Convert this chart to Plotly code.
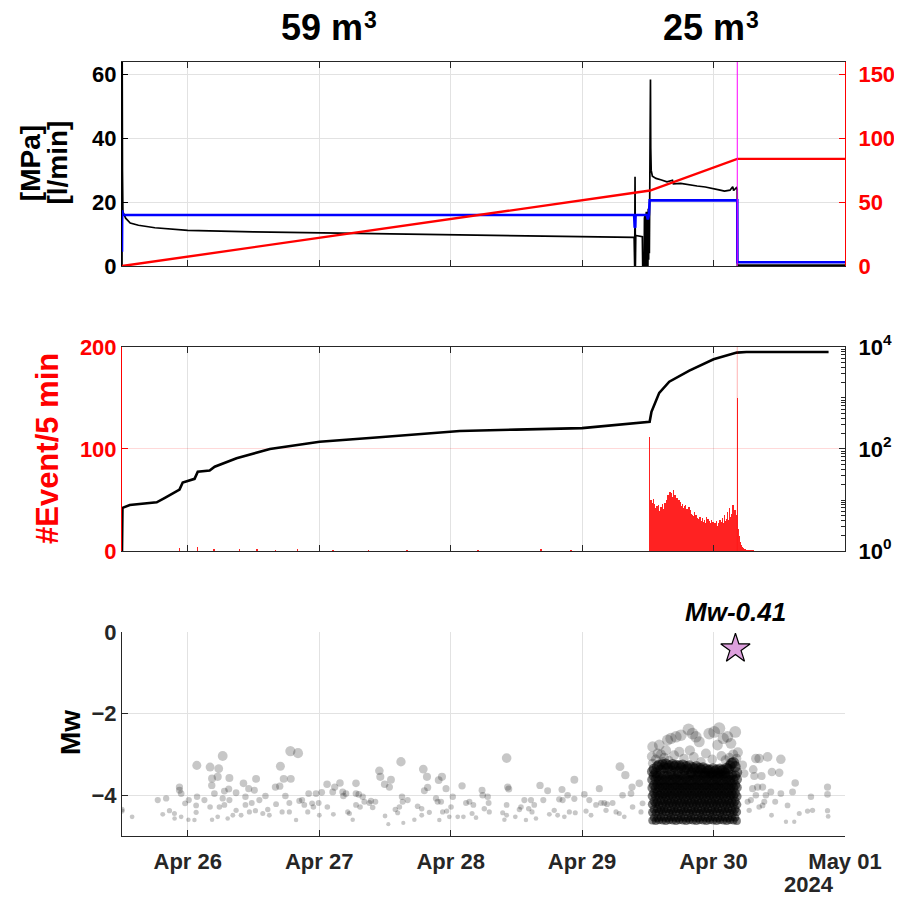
import numpy as np
import pandas as pd
import plotly.graph_objects as go

# ---------------- axis / tick data ----------------
x_range = ["2024-04-25 12:00", "2024-05-01 00:00"]
day_ticks = ["2024-04-26", "2024-04-27", "2024-04-28", "2024-04-29", "2024-04-30", "2024-05-01"]
day_labels = ["Apr 26", "Apr 27", "Apr 28", "Apr 29", "Apr 30", "May 01"]
title_values = ["59 m", "25 m"]      # volumes injected in each stage, unit m^3
title_centers = [0.2877, 0.816]

# ---------------- top panel: pressure, flow, volume ----------------
pressure_time = ["2024-04-25 12:00", "2024-04-25 12:02", "2024-04-25 12:05", "2024-04-25 12:10", "2024-04-25 12:40",
                 "2024-04-25 13:30", "2024-04-25 15:00", "2024-04-25 18:00", "2024-04-26 00:00", "2024-04-26 12:00",
                 "2024-04-27 00:00", "2024-04-27 12:00", "2024-04-28 00:00", "2024-04-28 12:00", "2024-04-29 00:00",
                 "2024-04-29 09:30", "2024-04-29 09:36", "2024-04-29 09:40", "2024-04-29 09:44", "2024-04-29 09:48",
                 "2024-04-29 11:00", "2024-04-29 11:04", "2024-04-29 11:20", "2024-04-29 11:23", "2024-04-29 11:26",
                 "2024-04-29 11:30", "2024-04-29 11:33", "2024-04-29 11:37", "2024-04-29 11:40", "2024-04-29 11:44",
                 "2024-04-29 11:47", "2024-04-29 11:51", "2024-04-29 11:54", "2024-04-29 11:58", "2024-04-29 12:01",
                 "2024-04-29 12:05", "2024-04-29 12:09", "2024-04-29 12:13", "2024-04-29 12:17", "2024-04-29 12:22",
                 "2024-04-29 12:26", "2024-04-29 12:29", "2024-04-29 12:32", "2024-04-29 12:37", "2024-04-29 12:50",
                 "2024-04-29 13:30", "2024-04-29 14:30", "2024-04-29 15:30", "2024-04-29 16:30", "2024-04-29 16:40",
                 "2024-04-29 18:00", "2024-04-29 19:30", "2024-04-29 21:00", "2024-04-29 22:30", "2024-04-30 00:00",
                 "2024-04-30 01:00", "2024-04-30 02:00", "2024-04-30 03:00", "2024-04-30 03:30", "2024-04-30 03:40",
                 "2024-04-30 04:10", "2024-04-30 04:19", "2024-04-30 04:21", "2024-05-01 00:00"]
pressure_mpa = [0, 66, 30, 17, 15,
                13.5, 12.8, 12.0, 11.2, 10.7,
                10.4, 10.1, 9.9, 9.7, 9.4,
                9.0, 0, 28, 0, 9.6,
                9.2, 0, 0, 15, 0,
                16, 0, 15, 0, 17,
                0, 16, 0, 17, 0,
                18, 2, 17, 4, 18,
                32, 58.5, 37, 30, 28.2,
                27.5, 27.0, 26.4, 26.9, 25.8,
                25.9, 25.4, 25.1, 24.8, 24.4,
                23.9, 23.5, 23.8, 24.9, 23.7,
                24.6, 24.1, 0.3, 0.3]

flow_time = ["2024-04-25 12:00", "2024-04-25 12:02", "2024-04-25 12:10", "2024-04-29 09:30", "2024-04-29 09:36",
             "2024-04-29 09:42", "2024-04-29 09:46", "2024-04-29 11:50", "2024-04-29 12:00", "2024-04-29 12:12",
             "2024-04-29 12:20", "2024-04-30 04:20", "2024-04-30 04:21", "2024-05-01 00:00"]
flow_lpm = [4.5, 17.5, 16.0, 16.0, 12.3,
            12.0, 16.0, 16.0, 14.6, 16.0,
            20.6, 20.6, 1.2, 1.2]

volume_time = ["2024-04-25 12:00", "2024-04-29 09:10", "2024-04-29 12:25", "2024-04-30 04:20", "2024-05-01 00:00"]
volume_m3 = [0, 57.5, 59.2, 84.0, 84.0]

shut_in_time = "2024-04-30 04:20"

# ---------------- middle panel: event rate + cumulative ----------------
rate_start = "2024-04-29 12:20"
rate_counts = [112, 48, 45, 50, 42, 47, 38, 44, 51, 40, 35, 46,
               38, 30, 42, 36, 44, 28, 40, 33, 45, 37, 31, 39,
               35, 43, 29, 38, 46, 34, 41, 30, 44, 39, 47, 36,
               42, 50, 38, 45, 55, 40, 48, 52, 43, 58, 46, 51,
               57, 44, 53, 48, 60, 42, 50, 47, 55, 41, 49, 45,
               52, 39, 47, 43, 50, 38, 45, 41, 48, 36, 44, 40,
               46, 35, 42, 38, 44, 33, 40, 45, 37, 32, 41, 36,
               39, 30, 43, 34, 37, 29, 40, 33, 36, 28, 35, 31,
               34, 27, 38, 30, 33, 26, 35, 29, 32, 25, 30, 28,
               31, 24, 33, 27, 30, 22, 29, 26, 32, 23, 28, 25,
               30, 22, 27, 24, 33, 21, 28, 25, 31, 20, 26, 29,
               24, 27, 21, 30, 23, 26, 19, 28, 22, 25, 18, 27,
               23, 26, 20, 29, 22, 25, 19, 27, 21, 24, 30, 22,
               26, 20, 28, 23, 32, 21, 27, 24, 35, 22, 29, 25,
               31, 23, 27, 38, 24, 30, 26, 42, 28, 33, 25, 29,
               36, 27, 32, 45, 28, 34, 30, 40, 26, 31, 24, 35,
               150, 87, 22,
               20, 15, 12, 9, 8, 6, 5, 4, 4, 3, 3, 2, 2, 2, 1, 2, 1, 1, 1, 0,
               1, 1, 0, 1, 0, 0, 1, 0, 1, 0, 0, 1]
sparse_rate_time = ["2024-04-25 12:00", "2024-04-25 22:30", "2024-04-26 01:50", "2024-04-26 04:50",
                    "2024-04-26 09:30", "2024-04-26 12:40", "2024-04-26 16:00", "2024-04-26 20:00",
                    "2024-04-27 02:30", "2024-04-27 09:00", "2024-04-27 16:00", "2024-04-28 05:00",
                    "2024-04-28 16:30", "2024-04-28 22:00"]
sparse_rate_counts = [7, 3, 4, 2, 2, 2, 1, 2, 1, 1, 1, 1, 2, 1]

cum_time = ["2024-04-25 12:00", "2024-04-25 12:05", "2024-04-25 13:25", "2024-04-25 18:20", "2024-04-25 19:50",
            "2024-04-25 22:30", "2024-04-25 23:05", "2024-04-26 01:15", "2024-04-26 01:50", "2024-04-26 04:00",
            "2024-04-26 04:55", "2024-04-26 08:55", "2024-04-26 15:00", "2024-04-27 00:05", "2024-04-27 11:00",
            "2024-04-27 18:20", "2024-04-28 01:40", "2024-04-28 12:00", "2024-04-29 00:00", "2024-04-29 12:20",
            "2024-04-29 12:40", "2024-04-29 14:05", "2024-04-29 15:55", "2024-04-29 19:35", "2024-04-30 00:00",
            "2024-04-30 04:15", "2024-04-30 06:00", "2024-04-30 21:00"]
cum_count = [1, 7, 8, 9, 11,
             16, 22, 26, 36, 38,
             45, 66, 100, 139, 170,
             196, 225, 240, 257, 343,
             537, 1260, 2090, 3430, 5740,
             7760, 7950, 7960]

# ---------------- bottom panel: magnitudes ----------------
# event time as decimal day of April 2024, magnitude Mw
bg_day = [25.50, 25.50, 25.577, 25.772, 25.836, 25.810, 25.861, 25.899, 25.90, 25.937, 25.937, 25.95, 25.95, 25.98,
          26.008, 26.005, 26.051, 26.064, 26.064, 26.069, 26.071, 26.127, 26.170, 26.170, 26.183, 26.185, 26.185,
          26.203, 26.228, 26.228, 26.236, 26.241, 26.266, 26.266, 26.279, 26.279, 26.304, 26.312, 26.317, 26.317,
          26.343, 26.368, 26.368, 26.406, 26.424, 26.439, 26.439, 26.464, 26.469, 26.487, 26.507, 26.515, 26.520,
          26.545, 26.571, 26.591, 26.609, 26.621, 26.667, 26.672, 26.700, 26.705, 26.718, 26.730, 26.743, 26.773,
          26.773, 26.781, 26.784, 26.824, 26.839, 26.849, 26.870, 26.887, 26.913, 26.920, 26.946, 26.956, 26.976,
          26.996, 27.001, 27.019, 27.060, 27.062, 27.103, 27.108, 27.118, 27.158, 27.179, 27.184, 27.204, 27.217,
          27.230, 27.255, 27.280, 27.280, 27.280, 27.301, 27.311, 27.331, 27.344, 27.382, 27.394, 27.407, 27.427,
          27.458, 27.465, 27.498, 27.501, 27.526, 27.534, 27.546, 27.579, 27.597, 27.610, 27.622, 27.630, 27.635,
          27.640, 27.673, 27.724, 27.749, 27.780, 27.780, 27.792, 27.800, 27.820, 27.825, 27.838, 27.889, 27.901,
          27.909, 27.914, 27.927, 27.934, 27.939, 27.965, 27.970, 27.990, 28.003, 28.016, 28.054, 28.087, 28.097,
          28.117, 28.143, 28.163, 28.173, 28.193, 28.239, 28.244, 28.256, 28.282, 28.289, 28.294, 28.396, 28.409,
          28.426, 28.434, 28.442, 28.426, 28.426, 28.492, 28.523, 28.535, 28.561, 28.573, 28.594, 28.611, 28.619,
          28.636, 28.649, 28.680, 28.705, 28.738, 28.751, 28.788, 28.814, 28.826, 28.847, 28.852, 28.865, 28.890,
          28.903, 28.941, 28.941, 28.948, 29.017, 29.030, 29.055, 29.068, 29.106, 29.131, 29.144, 29.182,
          29.169, 29.19, 29.232, 29.258, 29.283, 29.288, 29.308, 29.321, 29.329, 29.372, 29.380, 29.384, 29.435,
          29.448, 29.460,
          30.322, 30.347, 30.411, 30.512, 30.444, 30.500, 30.302, 30.310, 30.365, 30.373, 30.335, 30.297, 30.398,
          30.436, 30.512, 30.601, 30.621, 30.741, 30.867, 30.867, 30.867, 30.872, 30.753, 30.715, 30.652, 30.563,
          30.551, 30.614, 30.469, 30.441, 30.373, 30.322, 30.284, 30.259, 30.271, 30.347, 30.386]
bg_mw = [-4.39, -4.35, -4.53, -4.12, -4.08, -4.47, -4.38, -4.45, -4.57, -3.80, -3.88, -3.96, -4.53, -4.20,
         -4.12, -4.60, -4.61, -4.25, -4.42, -3.27, -4.04, -4.12, -3.31, -4.29, -3.76, -3.59, -4.60,
         -3.96, -3.55, -4.53, -3.35, -4.29, -3.04, -4.08, -3.90, -4.24, -4.57, -3.85, -3.58, -4.12,
         -4.49, -3.94, -4.37, -4.49, -3.71, -4.04, -4.24, -3.84, -4.41, -4.19, -3.88, -4.38, -3.60,
         -4.12, -4.45, -4.02, -4.35, -4.49, -3.80, -4.22, -3.78, -3.29, -4.41, -3.60, -4.02, -4.19,
         -4.41, -2.92, -3.60, -4.61, -2.97, -4.14, -4.12, -4.24, -4.41, -3.96, -4.20, -4.29, -3.96,
         -4.19, -4.49, -3.93, -3.73, -4.29, -3.92, -4.47, -3.80, -3.70, -3.92, -4.02, -3.96, -4.41,
         -4.45, -4.60, -3.71, -3.96, -4.24, -3.98, -4.29, -4.04, -4.16, -4.19, -4.14, -4.30, -4.16,
         -3.40, -3.55, -3.73, -4.51, -4.71, -3.80, -3.62, -4.35, -4.43, -4.29, -3.18, -4.04, -4.16,
         -4.68, -4.12, -4.60, -4.27, -4.33, -4.49, -3.36, -3.89, -3.55, -3.81, -4.42, -4.08, -4.16,
         -3.63, -4.61, -4.16, -3.55, -4.41, -3.84, -4.39, -4.53, -4.29, -4.04, -4.53, -3.77, -4.53,
         -4.19, -4.16, -4.45, -4.24, -4.55, -3.88, -4.00, -4.33, -4.04, -4.19, -4.41, -4.43, -4.60,
         -3.09, -3.80, -3.85, -4.24, -4.49, -4.53, -4.35, -4.29, -4.12, -4.61, -4.33, -4.12, -4.41,
         -4.24, -4.57, -3.76, -4.12, -3.89, -4.47, -4.37, -4.49, -4.10, -3.86, -4.12, -4.53, -4.00,
         -4.41, -3.62, -4.09, -4.43, -3.98, -4.39, -4.12, -4.49, -4.24, -3.84, -4.19, -4.37,
         -4.19, -4.22, -4.19, -4.41, -4.45, -3.30, -4.00, -4.53, -3.51, -3.96, -3.80, -4.29, -3.71,
         -4.41, -4.20,
         -3.10, -3.10, -3.06, -3.12, -3.43, -3.45, -3.37, -3.53, -3.53, -3.80, -3.80, -3.84, -4.00,
         -3.92, -3.96, -3.92, -3.70, -4.04, -3.80, -3.98, -4.38, -4.52, -4.37, -4.39, -4.45, -4.25,
         -4.65, -4.65, -4.16, -4.49, -4.25, -4.00, -4.12, -4.16, -4.37, -4.29, -4.16]

# larger events above the swarm
fringe_day = [29.536, 29.587, 29.574, 29.638, 29.650, 29.676, 29.714, 29.739, 29.752, 29.810, 29.820, 29.840,
              29.866, 29.891, 29.942, 29.967, 30.005, 30.030, 30.043, 30.074, 30.106, 30.132, 30.165, 29.536,
              29.612, 30.221, 30.234,
              29.530, 29.560, 29.600, 29.625, 29.660, 29.700, 29.775, 29.850, 29.905, 29.990, 30.060, 30.090,
              30.120, 30.150, 30.175, 30.185]
fringe_mw = [-2.81, -2.77, -2.98, -2.90, -2.65, -2.61, -2.57, -2.94, -2.53, -2.39, -2.90, -2.49,
             -2.57, -2.69, -2.98, -2.49, -2.45, -2.77, -2.36, -2.61, -2.57, -2.73, -2.45, -3.22,
             -3.18, -3.26, -3.47,
             -3.05, -3.12, -3.00, -3.08, -3.15, -3.02, -3.10, -3.06, -3.18, -3.12, -3.04, -3.14,
             -3.08, -3.00, -3.10, -2.95]

# dense swarm during the second injection: one list of magnitudes per time column
dense_start = "2024-04-29 12:50"
dense_step = "1110s"
dense_cols = [
    [-4.62, -4.42, -4.22, -4.02, -3.82, -3.62, -3.42], [-4.55, -4.35, -4.15, -3.95, -3.75, -3.52, -3.36],
    [-4.63, -4.43, -4.21, -4.03, -3.83, -3.61, -3.45], [-4.56, -4.34, -4.16, -3.94, -3.74, -3.53, -3.30],
    [-4.61, -4.41, -4.23, -4.01, -3.81, -3.63, -3.26], [-4.54, -4.36, -4.14, -3.96, -3.74, -3.51, -3.38],
    [-4.62, -4.42, -4.22, -4.02, -3.82, -3.62, -3.25], [-4.55, -4.35, -4.15, -3.95, -3.75, -3.52, -3.32],
    [-4.63, -4.41, -4.23, -4.03, -3.81, -3.61, -3.24], [-4.56, -4.34, -4.14, -3.94, -3.76, -3.53, -3.34],
    [-4.61, -4.43, -4.21, -4.01, -3.83, -3.63, -3.28], [-4.54, -4.36, -4.16, -3.96, -3.74, -3.51, -3.40],
    [-4.62, -4.42, -4.22, -4.02, -3.82, -3.62, -3.25], [-4.55, -4.35, -4.15, -3.95, -3.75, -3.52, -3.30],
    [-4.63, -4.41, -4.23, -4.03, -3.81, -3.61, -3.27], [-4.56, -4.34, -4.14, -3.94, -3.76, -3.53, -3.42],
    [-4.61, -4.43, -4.21, -4.01, -3.83, -3.63, -3.28], [-4.54, -4.36, -4.16, -3.96, -3.74, -3.51, -3.33],
    [-4.62, -4.42, -4.22, -4.02, -3.82, -3.62, -3.26], [-4.55, -4.35, -4.15, -3.95, -3.75, -3.52, -3.38],
    [-4.63, -4.41, -4.23, -4.03, -3.81, -3.61, -3.30], [-4.56, -4.34, -4.14, -3.94, -3.76, -3.53, -3.35],
    [-4.61, -4.43, -4.21, -4.01, -3.83, -3.63, -3.28], [-4.54, -4.36, -4.16, -3.96, -3.74, -3.51, -3.44],
    [-4.62, -4.42, -4.22, -4.02, -3.82, -3.62, -3.32], [-4.55, -4.35, -4.15, -3.95, -3.75, -3.52, -3.36],
    [-4.63, -4.41, -4.23, -4.03, -3.81, -3.61, -3.30], [-4.56, -4.34, -4.14, -3.94, -3.76, -3.53, -3.42],
    [-4.61, -4.43, -4.21, -4.01, -3.83, -3.63, -3.34], [-4.54, -4.36, -4.16, -3.96, -3.74, -3.51, -3.38],
    [-4.62, -4.42, -4.22, -4.02, -3.82, -3.62, -3.33], [-4.55, -4.35, -4.15, -3.95, -3.75, -3.52, -3.45],
    [-4.63, -4.41, -4.23, -4.03, -3.81, -3.61, -3.36], [-4.56, -4.34, -4.14, -3.94, -3.76, -3.53, -3.40],
    [-4.61, -4.43, -4.21, -4.01, -3.83, -3.63, -3.38], [-4.54, -4.36, -4.16, -3.96, -3.74, -3.51, -3.46],
    [-4.62, -4.42, -4.22, -4.02, -3.82, -3.62, -3.35], [-4.55, -4.35, -4.15, -3.95, -3.75, -3.52, -3.42],
    [-4.63, -4.41, -4.23, -4.03, -3.81, -3.61, -3.38], [-4.56, -4.34, -4.14, -3.94, -3.76, -3.53, -3.46],
    [-4.61, -4.43, -4.21, -4.01, -3.83, -3.63, -3.36], [-4.54, -4.36, -4.16, -3.96, -3.74, -3.51, -3.40],
    [-4.62, -4.42, -4.22, -4.02, -3.82, -3.62, -3.38], [-4.55, -4.35, -4.15, -3.95, -3.75, -3.52, -3.45],
    [-4.63, -4.41, -4.23, -4.03, -3.81, -3.61, -3.34], [-4.56, -4.34, -4.14, -3.94, -3.76, -3.53, -3.36],
    [-4.61, -4.43, -4.21, -4.01, -3.83, -3.63, -3.28], [-4.54, -4.36, -4.16, -3.96, -3.74, -3.51, -3.22],
    [-4.62, -4.42, -4.22, -4.02, -3.82, -3.62, -3.20], [-4.55, -4.35, -4.15, -3.95, -3.75, -3.52, -3.30],
    [-4.63, -4.41, -4.23, -4.03, -3.81, -3.61, -3.44],
]

star_time = "2024-04-30 04:00"
star_mw = -0.41

# ---------------- helpers ----------------
def april_day(days):
    return pd.Timestamp("2024-04-01") + pd.to_timedelta(np.asarray(days, dtype=float) - 1.0, unit="D")

def mw_size(mw, base, gain):
    return base + (np.asarray(mw, dtype=float) + 4.7) * gain

INK = "#262626"
FONT = "Liberation Sans"
GRID = "#e2e2e2"

fig = go.Figure()

# top panel
fig.add_trace(go.Scatter(x=pd.to_datetime(pressure_time), y=pressure_mpa, mode="lines",
                         line=dict(color="black", width=1.7), xaxis="x", yaxis="y"))
fig.add_trace(go.Scatter(x=pd.to_datetime(flow_time), y=flow_lpm, mode="lines",
                         line=dict(color="#0000ff", width=2.6), xaxis="x", yaxis="y"))
fig.add_trace(go.Scatter(x=pd.to_datetime(volume_time), y=volume_m3, mode="lines",
                         line=dict(color="#ff0000", width=2.4), xaxis="x", yaxis="y2"))

# middle panel
rate_time = pd.date_range(rate_start, periods=len(rate_counts), freq="5min")
fig.add_trace(go.Bar(x=list(pd.to_datetime(sparse_rate_time)) + list(rate_time),
                     y=sparse_rate_counts + rate_counts, width=300000,
                     marker=dict(color="#ff2222", line=dict(width=0)),
                     xaxis="x2", yaxis="y3"))
fig.add_trace(go.Scatter(x=pd.to_datetime(cum_time), y=cum_count, mode="lines",
                         line=dict(color="black", width=2.6), xaxis="x2", yaxis="y4"))

# bottom panel
fig.add_trace(go.Scatter(x=april_day(bg_day), y=bg_mw, mode="markers",
                         marker=dict(color="black", opacity=0.22, size=mw_size(bg_mw, 4.2, 3.4), line=dict(width=0)),
                         xaxis="x3", yaxis="y5"))
dense_t = pd.date_range(dense_start, periods=len(dense_cols), freq=dense_step)
dense_x = [t for t, col in zip(dense_t, dense_cols) for _ in col]
dense_y = [m for col in dense_cols for m in col]
fig.add_trace(go.Scatter(x=dense_x, y=dense_y, mode="markers",
                         marker=dict(color="black", opacity=0.5, size=mw_size(dense_y, 8.0, 2.2), line=dict(width=0)),
                         xaxis="x3", yaxis="y5"))
fig.add_trace(go.Scatter(x=april_day(fringe_day), y=fringe_mw, mode="markers",
                         marker=dict(color="black", opacity=0.22, size=mw_size(fringe_mw, 4.2, 3.4), line=dict(width=0)),
                         xaxis="x3", yaxis="y5"))
fig.add_trace(go.Scatter(x=pd.to_datetime([star_time]), y=[star_mw], mode="markers",
                         marker=dict(symbol="star", size=22, color="#dda0dd", line=dict(color="black", width=1.2)),
                         xaxis="x3", yaxis="y5"))

# shut-in markers
fig.add_shape(type="line", xref="x", yref="y domain", x0=shut_in_time, x1=shut_in_time, y0=0, y1=1,
              line=dict(color="#ff00ff", width=1))
fig.add_shape(type="line", xref="x2", yref="y3 domain", x0=shut_in_time, x1=shut_in_time, y0=0, y1=1,
              line=dict(color="rgba(255,0,0,0.3)", width=1))

tickfont = dict(family=FONT, size=22, color=INK, weight="bold")

def xaxis_common(anchor, show_labels, mirror):
    return dict(type="date", range=x_range, anchor=anchor, domain=[0, 1], automargin=False,
                tickmode="array", tickvals=day_ticks, ticktext=day_labels, showticklabels=show_labels,
                ticks="inside", ticklen=6, tickcolor=INK, tickwidth=1,
                showline=True, linecolor=INK, linewidth=1, mirror=mirror,
                showgrid=True, gridcolor=GRID, gridwidth=1, zeroline=False,
                tickfont=tickfont, ticklabelstandoff=6)

# page body has an 8 px margin, so the figure is 894 x 899 and offset by 8 px
fig.update_layout(
    width=894, height=899,
    margin=dict(l=114, r=57, t=54, b=71, autoexpand=False),
    paper_bgcolor="white", plot_bgcolor="white",
    showlegend=False, bargap=0,
    font=dict(family=FONT, color=INK),
    xaxis=xaxis_common("y", False, "ticks"),
    xaxis2=dict(xaxis_common("y3", False, "ticks"), matches="x"),
    xaxis3=dict(xaxis_common("y5", True, False), matches="x"),
    yaxis=dict(domain=[0.7364, 1.0], anchor="x", range=[0, 64], tickvals=[0, 20, 40, 60], automargin=False,
               ticks="inside", ticklen=6, tickcolor="black", showline=True, linecolor="black",
               showgrid=True, gridcolor=GRID, zeroline=False,
               tickfont=dict(family=FONT, size=22, color="black", weight="bold")),
    yaxis2=dict(overlaying="y", side="right", anchor="x", range=[0, 160], tickvals=[0, 50, 100, 150],
                automargin=False,
                ticks="inside", ticklen=6, tickcolor="#ff0000", showline=True, linecolor="#ff0000",
                showgrid=False, zeroline=False, ticklabelstandoff=8,
                tickfont=dict(family=FONT, size=22, color="#ff0000", weight="bold")),
    yaxis3=dict(domain=[0.3682, 0.6318], anchor="x2", range=[0, 200], tickvals=[0, 100, 200], automargin=False,
                ticks="inside", ticklen=6, tickcolor="#ff0000", showline=True, linecolor="#ff0000",
                showgrid=True, gridcolor="rgba(255,0,0,0.15)", zeroline=False,
                tickfont=dict(family=FONT, size=22, color="#ff0000", weight="bold")),
    yaxis4=dict(overlaying="y3", side="right", anchor="x2", type="log", range=[0, 4], automargin=False,
                tickmode="array", tickvals=[1, 100, 10000],
                ticktext=["10<sup>0</sup>", "10<sup>2</sup>", "10<sup>4</sup>"],
                ticks="inside", ticklen=6, tickcolor=INK, showline=True, linecolor=INK,
                minor=dict(ticks="inside", ticklen=4, tickcolor=INK, dtick="D1", showgrid=False),
                showgrid=False, zeroline=False, ticklabelstandoff=8,
                tickfont=dict(family=FONT, size=22, color="black", weight="bold")),
    yaxis5=dict(domain=[0, 0.2636], anchor="x3", range=[-5, 0], tickvals=[-4, -2, 0], automargin=False,
                ticks="inside", ticklen=6, tickcolor=INK, showline=True, linecolor=INK,
                showgrid=True, gridcolor=GRID, zeroline=False, tickfont=tickfont),
)

# stage titles: "59 m" + raised "3", drawn as two text pieces so nothing leaves the page
title_font = dict(family=FONT, size=36, color="black", weight="bold")
sup_font = dict(family=FONT, size=23, color="black", weight="bold")
for txt, xc in zip(title_values, title_centers):
    fig.add_annotation(text=txt, xref="paper", yref="paper", x=xc, y=1.0173, xshift=34,
                       showarrow=False, font=title_font, xanchor="right", yanchor="bottom", borderpad=0)
    fig.add_annotation(text="3", xref="paper", yref="paper", x=xc, y=1.0365, xshift=33,
                       showarrow=False, font=sup_font, xanchor="left", yanchor="bottom", borderpad=0)

label_font = dict(family=FONT, size=28, color="black", weight="bold")
fig.add_annotation(text="[MPa]", xref="paper", yref="paper", x=-0.127, y=0.8695,
                   textangle=-90, showarrow=False, font=label_font, xanchor="center", yanchor="middle")
fig.add_annotation(text="[l/min]", xref="paper", yref="paper", x=-0.0905, y=0.8695,
                   textangle=-90, showarrow=False, font=label_font, xanchor="center", yanchor="middle")
fig.add_annotation(text="#Event/5 min", xref="paper", yref="paper", x=-0.1037, y=0.50,
                   textangle=-90, showarrow=False, font=dict(label_font, color="#ff0000", size=31),
                   xanchor="center", yanchor="middle")
fig.add_annotation(text="Mw", xref="paper", yref="paper", x=-0.0719, y=0.133,
                   textangle=-90, showarrow=False, font=label_font, xanchor="center", yanchor="middle")
fig.add_annotation(text="<i>Mw-0.41</i>", xref="x3", yref="y5", x=star_time, y=star_mw, yshift=37,
                   showarrow=False, font=dict(family=FONT, size=26, color="black", weight="bold"),
                   xanchor="center", yanchor="middle")
fig.add_annotation(text="2024", xref="paper", yref="paper", x=0.9876, y=-0.0633,
                   showarrow=False, font=tickfont, xanchor="right", yanchor="middle")

fig.write_html("out.html")
